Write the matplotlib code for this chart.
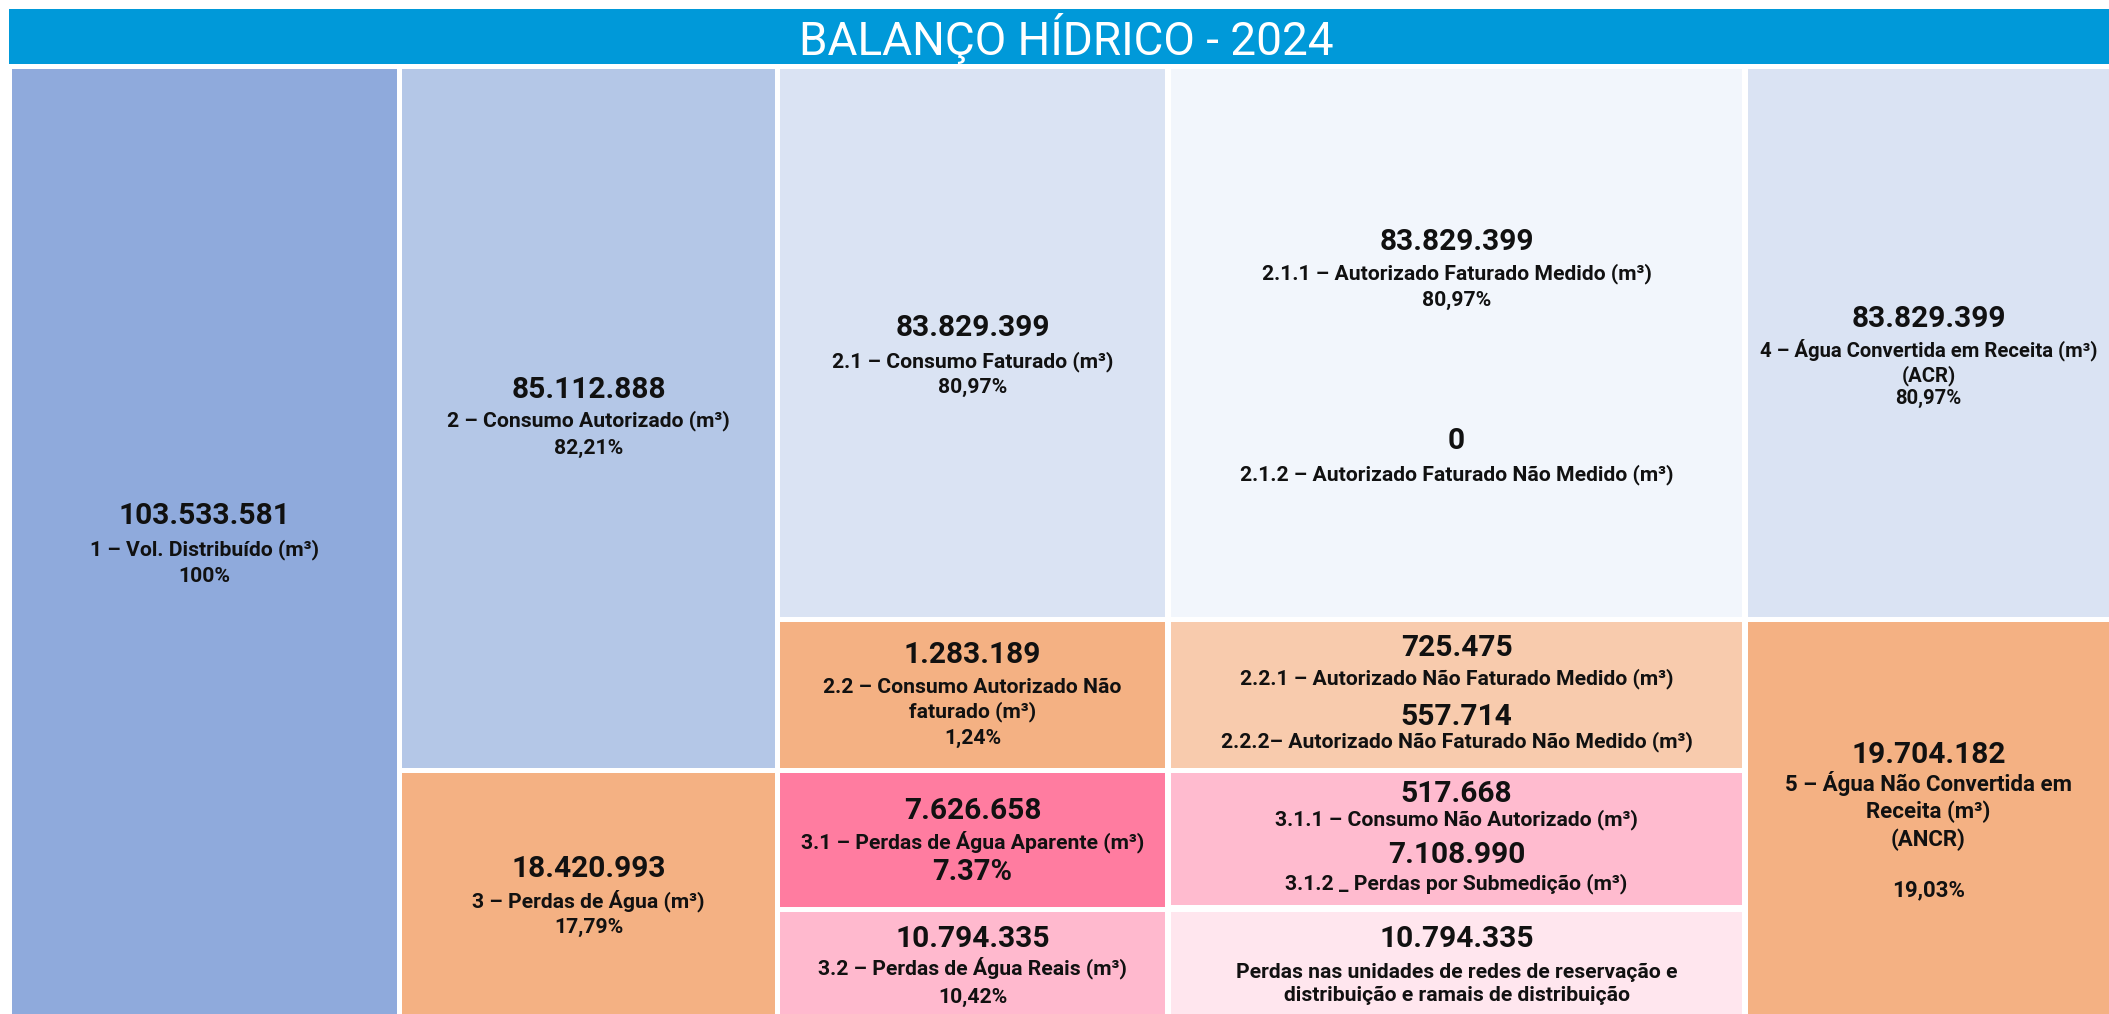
import matplotlib
matplotlib.use("Agg")
import matplotlib.pyplot as plt
from matplotlib.patches import Rectangle

plt.rcParams['font.family'] = ['Roboto', 'DejaVu Sans']

# Dados do balanço hídrico 2024
titulo = "BALANÇO HÍDRICO - 2024"

volumes = ["103.533.581", "85.112.888", "18.420.993", "83.829.399", "1.283.189",
           "7.626.658", "10.794.335", "83.829.399", "0", "725.475", "557.714",
           "517.668", "7.108.990", "10.794.335", "83.829.399", "19.704.182"]

rotulos = ["1 – Vol. Distribuído (m³)",
           "2 – Consumo Autorizado (m³)",
           "3 – Perdas de Água (m³)",
           "2.1 – Consumo Faturado (m³)",
           "2.2 – Consumo Autorizado Não\nfaturado (m³)",
           "3.1 – Perdas de Água Aparente (m³)",
           "3.2 – Perdas de Água Reais (m³)",
           "2.1.1 – Autorizado Faturado Medido (m³)",
           "2.1.2 – Autorizado Faturado Não Medido (m³)",
           "2.2.1 – Autorizado Não Faturado Medido (m³)",
           "2.2.2– Autorizado Não Faturado Não Medido (m³)",
           "3.1.1 – Consumo Não Autorizado (m³)",
           "3.1.2 _ Perdas por Submedição (m³)",
           "Perdas nas unidades de redes de reservação e\ndistribuição e ramais de distribuição",
           "4 – Água Convertida em Receita (m³)\n(ACR)",
           "5 – Água Não Convertida em\nReceita (m³)\n(ANCR)"]

percentuais = ["100%", "82,21%", "17,79%", "80,97%", "1,24%", "7.37%", "10,42%",
               "80,97%", "", "", "", "", "", "", "80,97%", "19,03%"]

# layout (pixels): bordas das colunas
col_x = [(12, 397), (402, 775), (780, 1165), (1171, 1742), (1748, 2109)]

# caixas: (coluna, topo, base, cor)
caixas = [
    (0, 69, 1014, '#8FAADC'),
    (1, 69, 768, '#B4C7E7'),
    (1, 773, 1014, '#F4B183'),
    (2, 69, 617, '#DAE3F3'),
    (2, 622, 768, '#F4B183'),
    (2, 773, 907, '#FF7CA0'),
    (2, 912, 1014, '#FFB9CE'),
    (3, 69, 617, '#F2F6FC'),
    (3, 622, 768, '#F8CBAD'),
    (3, 773, 905, '#FFBBCF'),
    (3, 912, 1014, '#FFE6EE'),
    (4, 69, 617, '#DAE3F3'),
    (4, 622, 1014, '#F4B183'),
]

# posição vertical do texto (valor, rótulo, percentual) e coluna
textos = [
    (0, 516, 550, 576),
    (1, 390, 421, 448),
    (1, 869, 901, 927),
    (2, 328, 362, 387),
    (2, 655, 700, 738),
    (2, 811, 842, 872),
    (2, 939, 968, 997),
    (3, 242, 274, 300),
    (3, 441, 475, None),
    (3, 648, 679, None),
    (3, 717, 742, None),
    (3, 794, 820, None),
    (3, 855, 884, None),
    (3, 939, 984, None),
    (4, 319, 362, 398),
    (4, 755, 811, 890),
]

fig = plt.figure(figsize=(21.09, 10.14), dpi=100)
ax = fig.add_axes([0, 0, 1, 1])
ax.set_xlim(0, 2109)
ax.set_ylim(1014, 0)
ax.axis('off')

# barra do título
ax.add_patch(Rectangle((9, 9), 2100, 55, color='#0099D9', lw=0))
ax.text(1066, 38, titulo, color='white', fontsize=33, fontweight='normal',
        ha='center', va='center')

for c, y0, y1, cor in caixas:
    x0, x1 = col_x[c]
    ax.add_patch(Rectangle((x0, y0), x1 - x0, y1 - y0, color=cor, lw=0))

for i, (c, yv, yr, yp) in enumerate(textos):
    xc = (col_x[c][0] + col_x[c][1]) / 2
    ax.text(xc, yv, volumes[i], fontsize=21.5, fontweight='bold', color='#111111',
            ha='center', va='center')
    fs = {15: 16, 14: 14.6}.get(i, 15.2)
    ax.text(xc, yr, rotulos[i], fontsize=fs, fontweight='bold', color='#111111',
            ha='center', va='center', linespacing=1.3)
    if yp is not None:
        fsp = 21 if i == 5 else fs
        ax.text(xc, yp, percentuais[i], fontsize=fsp, fontweight='bold',
                color='#111111', ha='center', va='center')

fig.savefig('out.png', dpi=100)
